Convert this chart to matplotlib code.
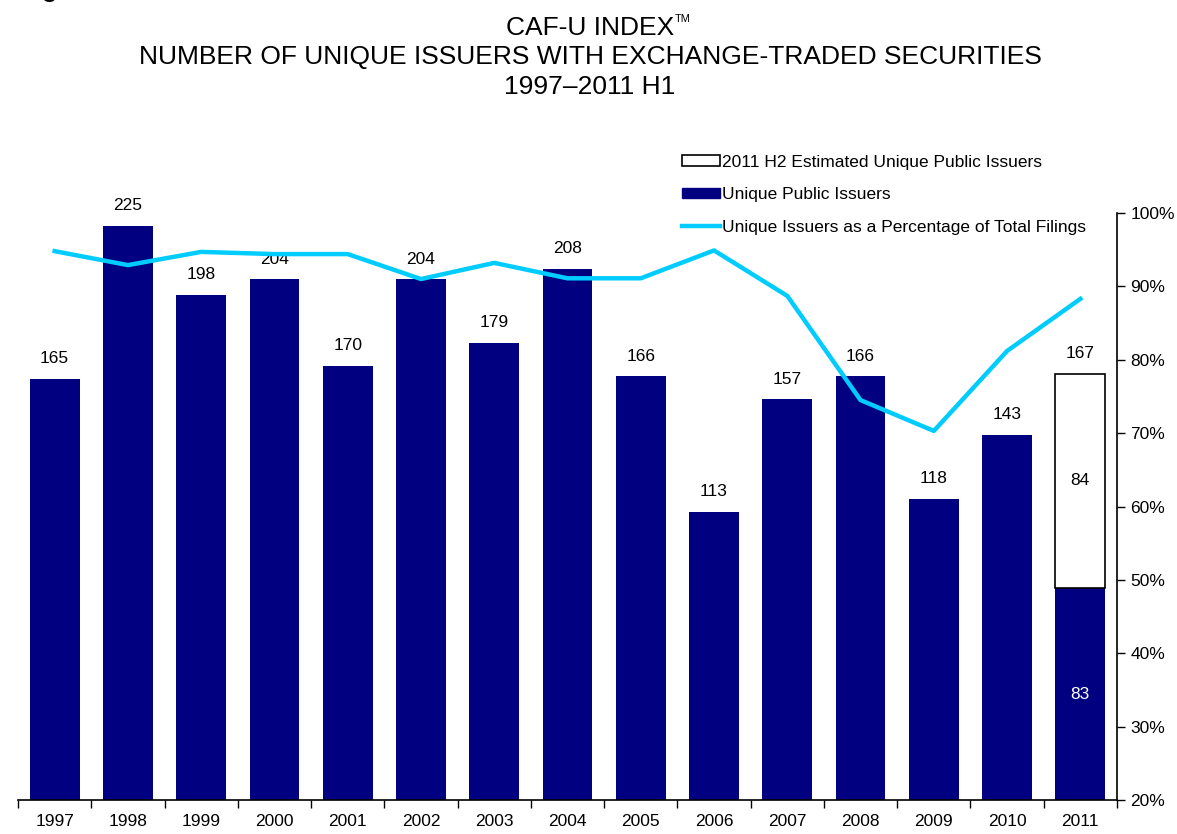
import matplotlib
matplotlib.use("Agg")
import matplotlib.pyplot as plt
from matplotlib.patches import Patch
from matplotlib.lines import Line2D
import numpy as np

plt.rcParams['font.family'] = ['Liberation Sans', 'DejaVu Sans']

years = ['1997', '1998', '1999', '2000', '2001', '2002', '2003', '2004',
         '2005', '2006', '2007', '2008', '2009', '2010', '2011']
issuers = [165, 225, 198, 204, 170, 204, 179, 208, 166, 113, 157, 166, 118, 143, 83]
h2_estimate = [0, 0, 0, 0, 0, 0, 0, 0, 0, 0, 0, 0, 0, 0, 84]
pct_of_filings = [94.8, 92.9, 94.7, 94.4, 94.4, 91.0, 93.2, 91.1, 91.1, 94.9,
                  88.7, 74.5, 70.3, 81.2, 88.3]

navy = '#000080'
cyan = '#00CCFF'

fig = plt.figure(figsize=(11.77, 8.34), dpi=100)
ax = fig.add_axes([18/1177, 1 - 800/834, (1117 - 18)/1177, (800 - 213)/834])
x = np.arange(len(years))
w = 0.68
fs = 12.5

ax.bar(x, issuers, width=w, color=navy, zorder=2)
h2x = [i for i, v in enumerate(h2_estimate) if v > 0]
ax.bar([x[i] for i in h2x], [h2_estimate[i] for i in h2x], width=w,
       bottom=[issuers[i] for i in h2x], color='white', edgecolor='black',
       linewidth=1.2, zorder=2)

for i in range(len(years)):
    if h2_estimate[i] > 0:
        total = issuers[i] + h2_estimate[i]
        ax.text(x[i], total + 5, str(total), ha='center', va='bottom', fontsize=fs)
        ax.text(x[i], issuers[i] + h2_estimate[i] / 2, str(h2_estimate[i]),
                ha='center', va='center', fontsize=fs)
        ax.text(x[i], issuers[i] / 2, str(issuers[i]), ha='center', va='center',
                fontsize=fs, color='white')
    else:
        ax.text(x[i], issuers[i] + 5, str(issuers[i]), ha='center', va='bottom', fontsize=fs)

ax.set_ylim(0, 230)
ax.set_xlim(-0.5, len(years) - 0.5)
ax.set_xticks(x)
ax.set_xticklabels(years, fontsize=fs)
ax.tick_params(axis='x', length=0, pad=10)
ax.set_xticks(np.arange(-0.5, len(years), 1), minor=True)
ax.tick_params(axis='x', which='minor', length=6, width=1, direction='out')
ax.set_yticks([])
for s in ['left', 'top', 'right']:
    ax.spines[s].set_visible(False)
ax.spines['bottom'].set_linewidth(1.2)

ax2 = ax.twinx()
ax2.plot(x, pct_of_filings, color=cyan, linewidth=3.2, zorder=3)
ax2.set_ylim(20, 100)
ax2.set_yticks(np.arange(20, 101, 10))
ax2.set_yticklabels([f'{v}%' for v in range(20, 101, 10)], fontsize=fs)
ax2.tick_params(axis='y', length=6, width=1, direction='out')
for s in ['left', 'top', 'bottom']:
    ax2.spines[s].set_visible(False)
ax2.spines['right'].set_linewidth(1.2)

tfs = 19
t1 = fig.text(590/1177, 1 - 28/834, 'CAF-U INDEX', ha='center', va='center', fontsize=tfs)
fig.text(590/1177, 1 - 57/834, 'NUMBER OF UNIQUE ISSUERS WITH EXCHANGE-TRADED SECURITIES',
         ha='center', va='center', fontsize=tfs)
fig.text(590/1177, 1 - 87/834, '1997\u20132011 H1', ha='center', va='center', fontsize=tfs)
fig.text(20/1177, 1 + 3/834, 'Fig', ha='left', va='baseline', fontsize=18, fontweight='bold')

renderer = fig.canvas.get_renderer()
bb = t1.get_window_extent(renderer=renderer)
fig.text((bb.x1 + 1) / 1177, (bb.y1 + 2) / 834, 'TM', ha='left', va='top', fontsize=8)

handles = [Patch(facecolor='white', edgecolor='black', linewidth=1.2),
           Patch(facecolor=navy, edgecolor=navy),
           Line2D([0], [0], color=cyan, linewidth=3.2)]
labels = ['2011 H2 Estimated Unique Public Issuers', 'Unique Public Issuers',
          'Unique Issuers as a Percentage of Total Filings']
fig.legend(handles, labels, loc='upper left', bbox_to_anchor=(673/1177, 1 - 146/834),
           frameon=False, fontsize=fs, handlelength=2.2, handleheight=0.55,
           handletextpad=0.12, labelspacing=1.02, borderpad=0)

fig.savefig('out.png', dpi=100)
